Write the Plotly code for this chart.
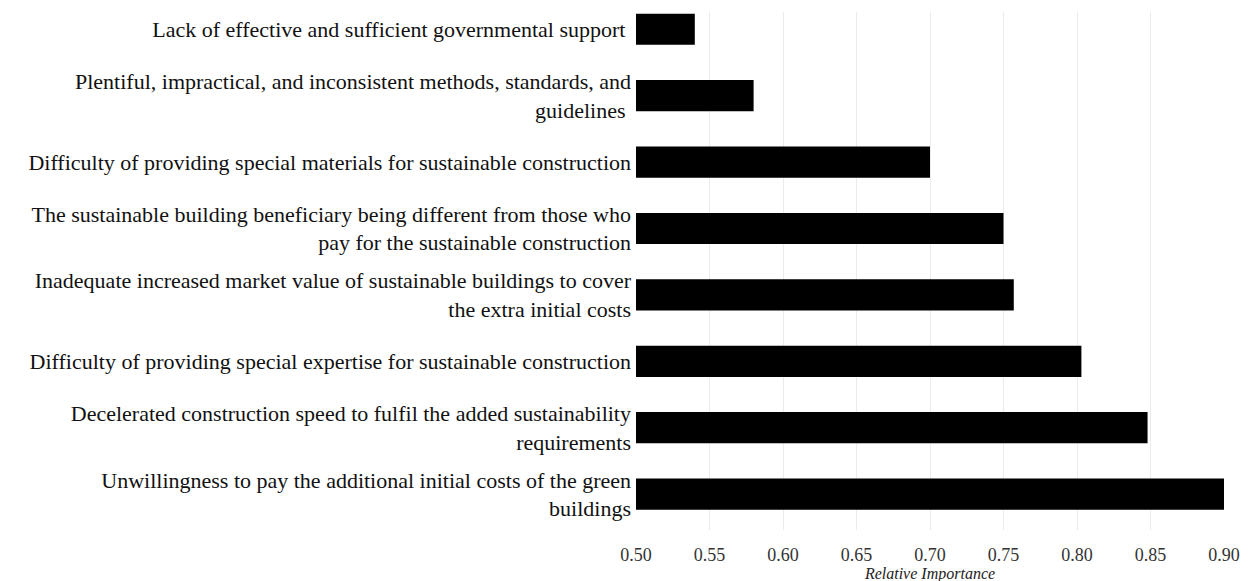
import plotly.graph_objects as go

categories = [
    "Unwillingness to pay the additional initial costs of the green<br>buildings",
    "Decelerated construction speed to fulfil the added sustainability<br>requirements",
    "Difficulty of providing special expertise for sustainable construction",
    "Inadequate increased market value of sustainable buildings to cover<br>the extra initial costs",
    "The sustainable building beneficiary being different from those who<br>pay for the sustainable construction",
    "Difficulty of providing special materials for sustainable construction",
    "Plentiful, impractical, and inconsistent methods, standards, and<br>guidelines ",
    "Lack of effective and sufficient governmental support ",
]
values = [0.90, 0.848, 0.803, 0.757, 0.750, 0.700, 0.580, 0.540]
tick_vals = [0.50, 0.55, 0.60, 0.65, 0.70, 0.75, 0.80, 0.85, 0.90]
tick_text = ["0.50", "0.55", "0.60", "0.65", "0.70", "0.75", "0.80", "0.85", "0.90"]

SERIF = "Liberation Serif, Times New Roman, serif"

fig = go.Figure(go.Bar(
    x=[v - 0.5 for v in values],
    y=list(range(len(categories))),
    orientation="h",
    base=0.5,
    marker=dict(color="black", line=dict(width=0)),
    width=0.47,
))

fig.update_layout(
    width=1242, height=581,
    margin=dict(l=628, r=26, t=4, b=59),
    paper_bgcolor="white", plot_bgcolor="white",
    font=dict(family=SERIF, color="#000"),
    showlegend=False,
    xaxis=dict(
        range=[0.5, 0.9],
        tickvals=tick_vals, ticktext=tick_text,
        showgrid=True, gridcolor="#ebebeb", gridwidth=1,
        zeroline=False, showline=False,
        tickfont=dict(family=SERIF, size=18, color="#333"),
        title=dict(text="<i>Relative Importance</i>", font=dict(family=SERIF, size=16, color="#222"), standoff=0),
        ticks="outside", ticklen=8, tickcolor="rgba(255,255,255,0)",
    ),
    yaxis=dict(
        tickvals=list(range(len(categories))), ticktext=categories,
        range=[-0.54, 7.26],
        showgrid=False, zeroline=False, showline=False,
        tickfont=dict(family=SERIF, size=22, color="#111"),
        ticks="", ticklen=0, ticklabelstandoff=4,
    ),
)
fig.write_html("out.html")
